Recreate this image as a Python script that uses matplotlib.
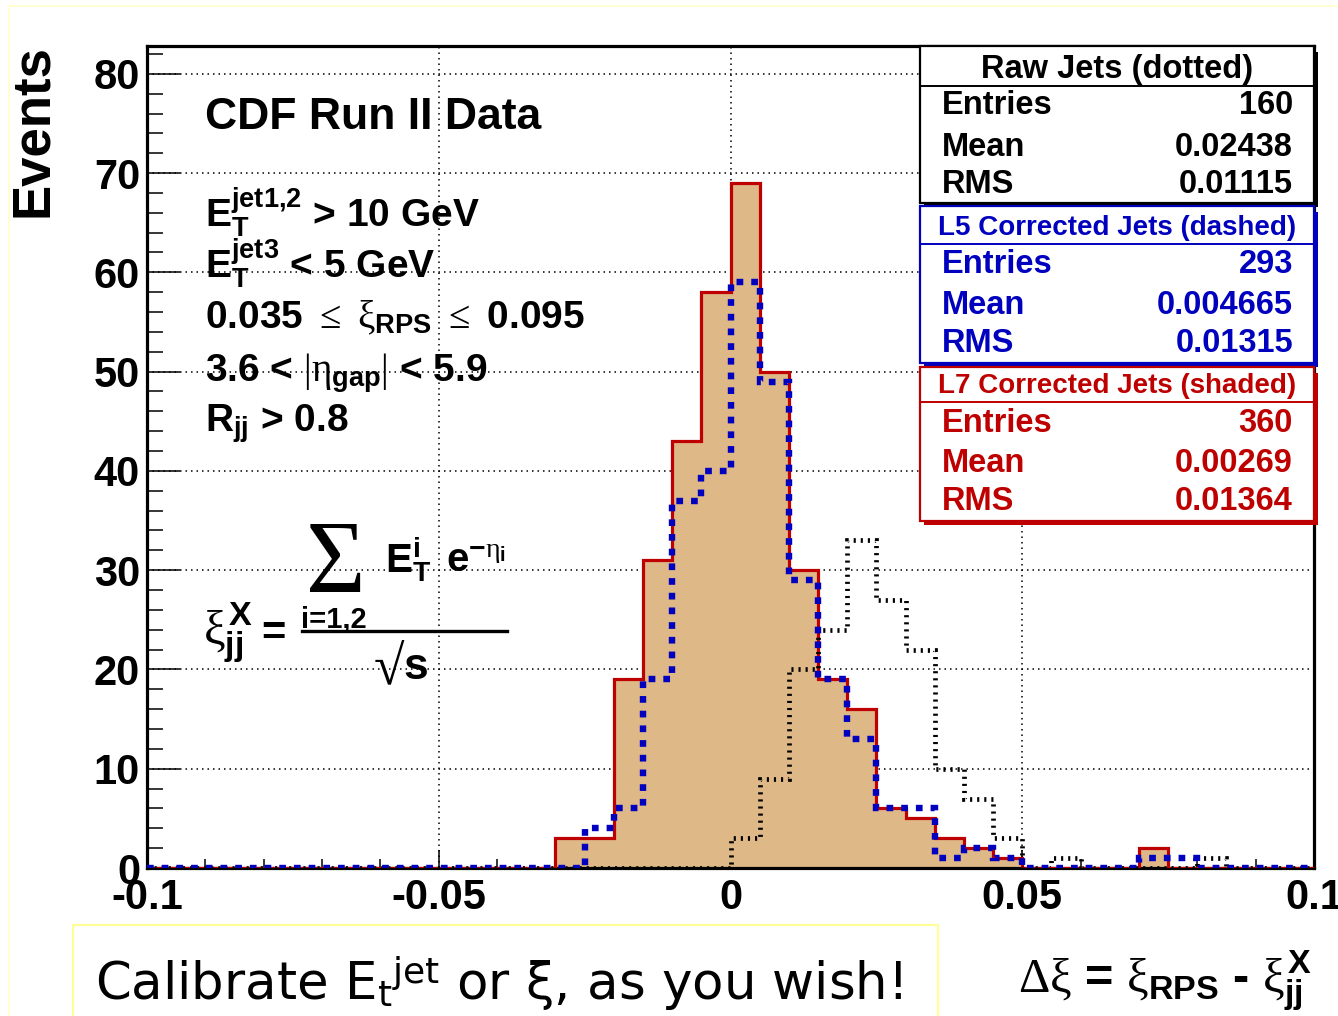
import numpy as np
import matplotlib
matplotlib.use("Agg")
import matplotlib.pyplot as plt
from matplotlib.patches import Rectangle
from matplotlib.lines import Line2D
from matplotlib.ticker import MultipleLocator, FixedLocator

# ---- binning of delta xi (40 bins of width 0.005) ----
bin_lo, bin_hi, n_bins = -0.1, 0.1, 40

# ---- bin contents, first bin starts at -0.1 ----
l7_counts = [0, 0, 0, 0, 0, 0, 0, 0, 0, 0,
             0, 0, 0, 0, 3, 3, 19, 31, 43, 58,
             69, 50, 30, 19, 16, 6, 5, 3, 2, 1,
             0, 0, 0, 0, 2, 0, 0, 0, 0, 0]
l5_counts = [0, 0, 0, 0, 0, 0, 0, 0, 0, 0,
             0, 0, 0, 0, 0, 4, 6, 19, 37, 40,
             59, 49, 29, 19, 13, 6, 6, 1, 2, 1,
             0, 0, 0, 0, 1, 1, 0, 0, 0, 0]
raw_counts = [0, 0, 0, 0, 0, 0, 0, 0, 0, 0,
              0, 0, 0, 0, 0, 0, 0, 0, 0, 0,
              3, 9, 20, 24, 33, 27, 22, 10, 7, 3,
              0, 1, 0, 0, 0, 0, 1, 0, 0, 0]

# ---- axis ticks ----
x_ticks = [-0.1, -0.05, 0.0, 0.05, 0.1]
x_tick_labels = ["-0.1", "-0.05", "0", "0.05", "0.1"]
y_ticks = [0, 10, 20, 30, 40, 50, 60, 70, 80]
y_max = 82.8

# ---- statistics boxes ----
stat_names = ["Entries", "Mean", "RMS"]
raw_title = "Raw Jets (dotted)"
raw_stats = ["160", "0.02438", "0.01115"]
l5_title = "L5 Corrected Jets (dashed)"
l5_stats = ["293", "0.004665", "0.01315"]
l7_title = "L7 Corrected Jets (shaded)"
l7_stats = ["360", "0.00269", "0.01364"]

# ---- cut annotations ----
header = "CDF Run II Data"
cuts = [r"$\mathbf{E}_{\mathbf{T}}^{\mathbf{jet1{,}2}}$ > 10 GeV",
        r"$\mathbf{E}_{\mathbf{T}}^{\mathbf{jet3}}$ < 5 GeV",
        r"0.035 $\mathcal{\leq}$ $\xi_{\mathbf{RPS}}$ $\mathcal{\leq}$ 0.095",
        r"3.6 < $\mathcal{|}\eta_{\mathbf{gap}}\mathcal{|}$ < 5.9",
        r"$\mathbf{R}_{\mathbf{jj}}$ > 0.8"]

RED = "#BE0000"
BLUE = "#0000BE"
TAN = "#DEB887"

plt.rcParams["font.family"] = ["Liberation Sans", "DejaVu Sans"]
plt.rcParams["font.weight"] = "bold"
plt.rcParams["mathtext.fontset"] = "custom"
plt.rcParams["mathtext.rm"] = "Liberation Sans:bold"
plt.rcParams["mathtext.bf"] = "Liberation Sans:bold"
plt.rcParams["mathtext.sf"] = "Liberation Sans:bold"
plt.rcParams["mathtext.it"] = "Liberation Serif:weight=normal"
plt.rcParams["mathtext.cal"] = "Liberation Serif:weight=normal"
plt.rcParams["mathtext.default"] = "it"

W, H = 1338, 1016
fig = plt.figure(figsize=(W / 100, H / 100), dpi=100)
fig.patch.set_facecolor("white")


def fx(x):
    return x / W


def fy(y):
    return 1 - y / H


ax = fig.add_axes([fx(147), fy(868), fx(1314) - fx(147), fy(46) - fy(868)])

edges = np.linspace(bin_lo, bin_hi, n_bins + 1)

# shaded L7 histogram with its outline, then the raw and L5 overlays
ax.stairs(l7_counts, edges, fill=True, color=TAN, zorder=2)
ax.stairs(l7_counts, edges, baseline=None, color=RED, linewidth=2.3, zorder=3)
ax.stairs(raw_counts, edges, baseline=None, color="black", linewidth=3.4,
          linestyle=(0, (0.45, 1.05)), zorder=4)
ax.stairs(l5_counts, edges, baseline=None, color=BLUE, linewidth=4.6,
          linestyle=(0, (1.05, 1.25)), zorder=5)

ax.set_xlim(bin_lo, bin_hi)
ax.set_ylim(0, y_max)
ax.set_axisbelow(True)

ax.xaxis.set_major_locator(FixedLocator(x_ticks))
ax.set_xticklabels(x_tick_labels)
ax.xaxis.set_minor_locator(MultipleLocator(0.01))
ax.yaxis.set_major_locator(FixedLocator(y_ticks))
ax.yaxis.set_minor_locator(MultipleLocator(2))

ax.grid(True, which="major", color="black", linestyle=(0, (1, 2.6)),
        linewidth=1.1)
ax.tick_params(axis="x", which="major", direction="in", length=13, width=1.1,
               labelsize=30, pad=7)
ax.tick_params(axis="x", which="minor", direction="in", length=6.5, width=1.1)
ax.tick_params(axis="y", which="major", direction="in", length=24, width=1.1,
               labelsize=30, pad=5)
ax.tick_params(axis="y", which="minor", direction="in", length=11.5, width=1.1)
for lab in ax.get_xticklabels() + ax.get_yticklabels():
    lab.set_fontweight("bold")
for sp in ax.spines.values():
    sp.set_linewidth(2.3)

# y axis title
fig.text(fx(33), fy(44), "Events", rotation=90, ha="center", va="top",
         fontsize=38, fontweight="bold")

# x axis title
fig.text(fx(1312), fy(993),
         r"$\mathcal{\Delta}\xi$ = $\xi_{\mathbf{RPS}}$ - $\xi^{\mathbf{X}}_{\mathbf{jj}}$",
         ha="right", va="baseline", fontsize=35, fontweight="bold")

# header and selection cuts
fig.text(fx(205), fy(129), header, fontsize=32, fontweight="bold",
         va="baseline")
for txt, yb in zip(cuts, [227, 278, 328, 382, 432]):
    fig.text(fx(205), fy(yb), txt, fontsize=28, fontweight="bold",
             va="baseline")

# xi_jj definition
fig.text(fx(306), fy(592), "\u03a3", family="Liberation Serif",
         fontweight="normal", fontsize=74, va="baseline")
fig.text(fx(385), fy(572), r"$\mathbf{E}_{\mathbf{T}}^{\mathbf{i}}$",
         fontsize=29, va="baseline")
fig.text(fx(446), fy(572), r"$\mathbf{e}^{\mathbf{-}\eta_{\mathbf{i}}}$",
         fontsize=29, va="baseline")
fig.text(fx(301), fy(627), "i=1,2", fontsize=21, fontweight="bold",
         va="baseline")
fig.add_artist(Line2D([fx(302), fx(507)], [fy(631), fy(631)],
                      transform=fig.transFigure, color="black", linewidth=2.4))
fig.text(fx(374), fy(684), "\u221a", family="Liberation Serif",
         fontweight="normal", fontsize=40, va="baseline")
fig.text(fx(403), fy(679), "s", fontsize=32, fontweight="bold",
         va="baseline")
fig.text(fx(203), fy(645), r"$\xi^{\mathbf{X}}_{\mathbf{jj}}$",
         fontsize=35, va="baseline")
fig.text(fx(261), fy(645), "=", fontsize=30, fontweight="bold",
         va="baseline")


# statistics boxes
def stat_box(y0, y1, ysep, color, title, title_size, values, baselines):
    fig.add_artist(Rectangle((fx(924), fy(y1 + 4)), fx(1314) - fx(920),
                             fy(y0 + 6) - fy(y1 + 4),
                             transform=fig.transFigure, facecolor=color,
                             edgecolor="none", zorder=5))
    fig.add_artist(Rectangle((fx(920), fy(y1)), fx(1314) - fx(920),
                             fy(y0) - fy(y1), transform=fig.transFigure,
                             facecolor="white", edgecolor=color,
                             linewidth=1.6, zorder=6))
    fig.add_artist(Line2D([fx(920), fx(1314)], [fy(ysep), fy(ysep)],
                          transform=fig.transFigure, color=color,
                          linewidth=1.4, zorder=7))
    fig.text(fx(1117), fy(baselines[0]), title, ha="center", va="baseline",
             fontsize=title_size, fontweight="bold", color=color, zorder=8)
    for name, val, yb in zip(stat_names, values, baselines[1:]):
        fig.text(fx(942), fy(yb), name, ha="left", va="baseline",
                 fontsize=23.5, fontweight="bold", color=color, zorder=8)
        fig.text(fx(1293), fy(yb), val, ha="right", va="baseline",
                 fontsize=23.5, fontweight="bold", color=color, zorder=8)


stat_box(46, 203, 86, "black", raw_title, 23.5, raw_stats, [78, 114, 156, 193])
stat_box(206, 363, 244, BLUE, l5_title, 20, l5_stats, [235, 273, 314, 352])
stat_box(367, 521, 402, RED, l7_title, 20, l7_stats, [393, 432, 472, 510])

# faint page frame and the comment box
fig.add_artist(Rectangle((fx(9), fy(1030)), fx(1345) - fx(9),
                         fy(6) - fy(1030), transform=fig.transFigure,
                         facecolor="none", edgecolor="#FFFFC8", linewidth=1.2))
fig.add_artist(Rectangle((fx(73), fy(1030)), fx(938) - fx(73),
                         fy(925) - fy(1030), transform=fig.transFigure,
                         facecolor="none", edgecolor="#FFFF99", linewidth=1.6))
fig.text(fx(95), fy(1000),
         "Calibrate E$_{\\mathregular{t}}$$^{\\mathregular{jet}}$ or \u03be, as you wish!",
         family="DejaVu Sans", fontweight="normal",
         fontsize=37, va="baseline")

fig.savefig("out.png", dpi=100)
